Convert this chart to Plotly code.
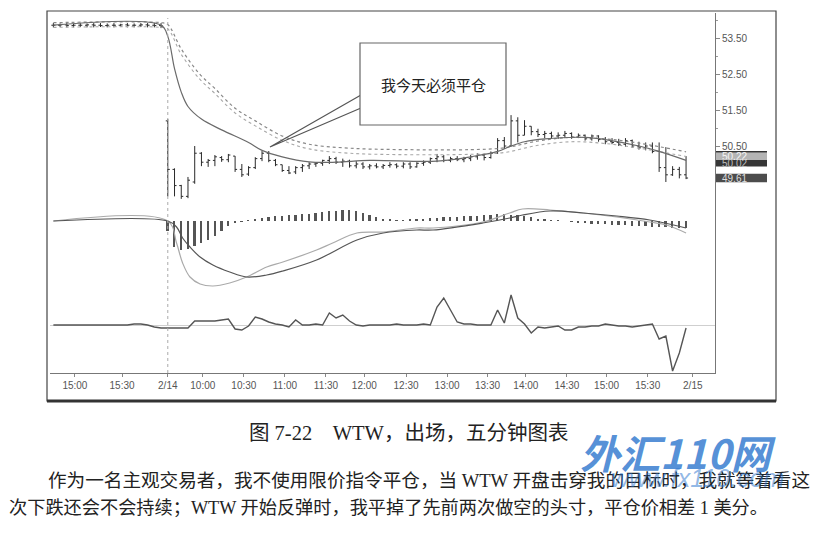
import plotly.graph_objects as go

# ---- data (bar number: 0 = 2/14 open, 5-minute bars) ----
pre_high = [53.92, 53.91, 53.92, 53.90, 53.92, 53.91, 53.92, 53.92, 53.91, 53.92,
            53.90, 53.92, 53.91, 53.92, 53.92, 53.93, 53.92]
pre_low = [53.80, 53.81, 53.80, 53.80, 53.81, 53.80, 53.80, 53.81, 53.80, 53.80,
           53.81, 53.80, 53.80, 53.81, 53.80, 53.80, 53.78]
pre_open = [53.86, 53.86, 53.87, 53.85, 53.86, 53.86, 53.87, 53.86, 53.85, 53.86,
            53.86, 53.87, 53.86, 53.86, 53.87, 53.86, 53.85]
pre_close = [53.86, 53.87, 53.85, 53.86, 53.86, 53.87, 53.86, 53.85, 53.86, 53.86,
             53.87, 53.86, 53.86, 53.87, 53.86, 53.85, 53.84]

day_open = [51.20, 49.85, 49.40, 49.10, 49.50, 50.30, 50.05, 50.10, 50.18, 50.12,
            50.22, 49.85, 49.72, 49.90, 50.15, 50.30, 50.10, 49.98, 49.82, 49.78,
            49.90, 49.95, 50.00, 50.02, 50.10, 50.15, 50.05, 50.08, 49.95, 50.00,
            49.92, 49.95, 49.92, 49.96, 49.98, 49.94, 50.00, 49.92, 50.02, 50.05,
            50.15, 50.20, 50.10, 50.15, 50.12, 50.15, 50.20, 50.25, 50.18, 50.30,
            50.65, 50.50, 51.20, 50.80, 51.05, 50.90, 50.82, 50.85, 50.78, 50.80,
            50.85, 50.75, 50.80, 50.70, 50.78, 50.68, 50.62, 50.60, 50.55, 50.65,
            50.50, 50.45, 50.50, 50.35, 49.90, 49.70, 49.85, 49.70]
day_high = [51.25, 49.88, 49.42, 49.64, 50.50, 50.33, 50.14, 50.25, 50.22, 50.28,
            50.22, 50.00, 49.94, 50.19, 50.36, 50.36, 50.14, 49.98, 49.94, 49.94,
            50.00, 50.05, 50.05, 50.12, 50.22, 50.20, 50.15, 50.12, 50.08, 50.05,
            50.00, 50.02, 50.00, 50.05, 50.02, 50.05, 50.05, 50.05, 50.10, 50.18,
            50.28, 50.25, 50.20, 50.22, 50.20, 50.25, 50.30, 50.28, 50.35, 50.72,
            50.75, 51.36, 51.30, 51.22, 51.05, 50.98, 50.92, 50.90, 50.88, 50.92,
            50.88, 50.85, 50.82, 50.82, 50.80, 50.75, 50.72, 50.70, 50.72, 50.68,
            50.62, 50.60, 50.60, 50.60, 50.47, 49.94, 49.92, 50.22]
day_low = [49.10, 49.10, 49.03, 49.05, 49.45, 49.94, 49.92, 49.94, 50.06, 50.05,
           49.78, 49.64, 49.67, 49.86, 50.08, 50.05, 49.94, 49.78, 49.72, 49.72,
           49.78, 49.86, 49.92, 49.95, 50.00, 50.00, 49.92, 49.90, 49.88, 49.86,
           49.85, 49.88, 49.86, 49.90, 49.88, 49.88, 49.86, 49.90, 49.95, 50.00,
           50.05, 50.05, 50.05, 50.08, 50.05, 50.08, 50.12, 50.10, 50.15, 50.28,
           50.42, 50.48, 50.60, 50.80, 50.80, 50.75, 50.72, 50.70, 50.70, 50.72,
           50.70, 50.72, 50.65, 50.65, 50.62, 50.55, 50.55, 50.50, 50.48, 50.45,
           50.40, 50.38, 50.30, 49.78, 49.50, 49.67, 49.60, 49.58]
day_close = [49.85, 49.40, 49.10, 49.55, 50.30, 50.05, 50.10, 50.20, 50.12, 50.25,
             49.85, 49.70, 49.90, 50.15, 50.30, 50.10, 49.98, 49.82, 49.75, 49.90,
             49.95, 50.00, 50.02, 50.10, 50.15, 50.05, 50.08, 49.95, 50.00, 49.92,
             49.95, 49.92, 49.96, 49.98, 49.94, 50.00, 49.92, 50.02, 50.05, 50.15,
             50.20, 50.10, 50.15, 50.12, 50.15, 50.20, 50.25, 50.18, 50.30, 50.65,
             50.50, 51.20, 50.80, 51.05, 50.90, 50.82, 50.85, 50.78, 50.80, 50.85,
             50.75, 50.80, 50.70, 50.78, 50.68, 50.62, 50.60, 50.55, 50.65, 50.50,
             50.45, 50.50, 50.35, 49.90, 49.70, 49.85, 49.70, 49.61]

bars = list(range(-17, 78))

# moving averages (knots)
fast_ma_x = [-17, -1, 0, 1, 2, 3, 5, 8, 12, 14, 17, 21, 25, 30, 40, 45, 49, 51, 53, 56, 62, 65, 70, 73, 77]
fast_ma_y = [53.86, 53.86, 53.55, 52.65, 52.0, 51.6, 51.25, 50.95, 50.6, 50.38, 50.2, 50.06, 50.05,
             50.10, 50.08, 50.2, 50.35, 50.5, 50.62, 50.7, 50.74, 50.68, 50.5, 50.35, 50.1]
slow_up_x = [-17, -1, 0, 2, 4.75, 7, 10, 13, 17, 21, 27, 35, 45, 50, 55, 60, 65, 70, 77]
slow_up_y = [53.93, 53.93, 53.88, 53.2, 52.5, 52.1, 51.55, 51.2, 50.78, 50.55, 50.44, 50.40,
             50.40, 50.45, 50.64, 50.74, 50.70, 50.58, 50.34]
slow_dn_x = [-17, -1, 0, 2, 4.75, 7, 10, 13, 17, 21, 27, 35, 45, 50, 55, 60, 65, 70, 77]
slow_dn_y = [53.80, 53.80, 53.76, 53.05, 52.36, 51.96, 51.42, 51.06, 50.66, 50.42, 50.30, 50.26,
             50.27, 50.32, 50.52, 50.62, 50.57, 50.44, 50.21]

# MACD panel
macd_x = [-17, 0, 1.3, 2.2, 3.3, 4.8, 6.7, 9.2, 11.7, 14.7, 17.1, 22.1, 24.5, 28.1, 32, 37,
          39.4, 46.8, 50.8, 52.7, 56.8, 61.7, 66.7, 71.6, 74.1, 77]
macd_fast = [0, 0, -0.44, -0.84, -1.12, -1.26, -1.30, -1.24, -1.12, -0.92, -0.82, -0.58, -0.44,
             -0.24, -0.22, -0.14, -0.14, -0.02, 0.16, 0.24, 0.22, 0.16, 0.08, -0.02, -0.08, -0.24]
signal_x = [-17, 0, 1.3, 2.2, 3.3, 4.8, 6.7, 9.2, 11.7, 14.7, 17.1, 22.1, 28.1, 32, 37, 39.4,
            46.8, 50.8, 52.7, 56.8, 61.7, 66.7, 71.6, 77]
macd_signal = [0, 0, -0.12, -0.34, -0.52, -0.72, -0.88, -1.02, -1.12, -1.08, -1.00, -0.78, -0.38,
               -0.24, -0.18, -0.18, -0.04, 0.06, 0.12, 0.20, 0.16, 0.10, 0.02, -0.14]
macd_hist = [0] * 17 + [
    -0.20, -0.52, -0.58, -0.56, -0.50, -0.44, -0.38, -0.30, -0.20, -0.10,
    -0.04, -0.02, 0.02, 0.04, 0.06, 0.08, 0.10, 0.10, 0.12, 0.12,
    0.14, 0.14, 0.16, 0.18, 0.20, 0.20, 0.22, 0.22, 0.20, 0.16,
    0.12, 0.08, 0.05, 0.03, 0.02, 0.02, 0.03, 0.04, 0.05, 0.06,
    0.07, 0.08, 0.08, 0.09, 0.10, 0.10, 0.11, 0.12, 0.13, 0.14,
    0.14, 0.13, 0.12, 0.10, 0.08, 0.05, 0.03, 0.02, 0.01, 0.0,
    -0.02, -0.03, -0.04, -0.05, -0.06, -0.06, -0.07, -0.08, -0.08, -0.09,
    -0.10, -0.10, -0.11, -0.12, -0.12, -0.13, -0.13, -0.14]

# lower oscillator
osc = [0, 0, 0, 0, 0, 0, 0, 0, 0, 0, 0, 0, 0.1, 0.1, 0, -0.2, -0.3,
       -0.3, -0.3, -0.3, -0.3, 0.4, 0.4, 0.4, 0.4, 0.5, 0.6,
       -0.4, -0.5, -0.1, 0.8, 0.6, 0.3, 0.1, 0.0, -0.2, 0.5,
       0.0, 0.0, 0.1, 0.0, 1.2, 0.7, 1.0, 0.4, 0.0, -0.1,
       0.0, 0.0, 0.0, 0.0, 0.1, 0.0, 0.0, 0.0, 0.1, 0.0,
       1.8, 2.7, 1.5, 0.3, 0.1, 0.1, 0.0, 0.0, 0.0, 1.5,
       0.2, 3.0, 0.7, 0.1, -0.8, -0.2, -0.3, -0.2, -0.1, -0.5,
       -0.5, -0.2, -0.2, -0.1, -0.1, 0.1, 0.0, -0.1, -0.1, -0.2,
       -0.1, 0.0, 0.1, -1.4, -1.1, -4.6, -2.8, -0.3]

x_tick_pos = [-13.8, -6.8, 0, 5.2, 11.3, 17.4, 23.5, 29.2, 35.4, 41.5, 47.5, 53.2, 59.3, 65.2, 71.3, 78]
x_tick_text = ['15:00', '15:30', '2/14', '10:00', '10:30', '11:00', '11:30', '12:00', '12:30',
               '13:00', '13:30', '14:00', '14:30', '15:00', '15:30', '2/15']
price_ticks = [50.5, 51.5, 52.5, 53.5]
price_tick_text = ['50.50', '51.50', '52.50', '53.50']
last_values = [50.22, 50.02, 49.61]

W, H = 827, 538
OFF = 8  # page body margin in the browser


def px(v):
    return (v - OFF) / W


def py(v):
    return 1 - (v - OFF) / H


fig = go.Figure()

fig.add_trace(go.Ohlc(x=bars, open=pre_open + day_open, high=pre_high + day_high,
                      low=pre_low + day_low, close=pre_close + day_close,
                      increasing_line_color='#2a2a2a', decreasing_line_color='#2a2a2a',
                      line_width=1, tickwidth=0.3, xaxis='x', yaxis='y'))
fig.add_trace(go.Scatter(x=slow_up_x, y=slow_up_y, mode='lines', line=dict(color='#888', width=1.2, dash='dot', shape='spline'), yaxis='y'))
fig.add_trace(go.Scatter(x=slow_dn_x, y=slow_dn_y, mode='lines', line=dict(color='#a8a8a8', width=1.1, dash='dot', shape='spline'), yaxis='y'))
fig.add_trace(go.Scatter(x=fast_ma_x, y=fast_ma_y, mode='lines', line=dict(color='#6a6a6a', width=1.2, shape='spline'), yaxis='y'))

fig.add_trace(go.Bar(x=bars, y=macd_hist, width=0.26, marker=dict(color='#555', line_width=0), yaxis='y2'))
fig.add_trace(go.Scatter(x=macd_x, y=macd_fast, mode='lines', line=dict(color='#aaa', width=1.2, shape='spline'), yaxis='y2'))
fig.add_trace(go.Scatter(x=signal_x, y=macd_signal, mode='lines', line=dict(color='#555', width=1.2, shape='spline'), yaxis='y2'))

fig.add_trace(go.Scatter(x=bars, y=osc, mode='lines', line=dict(color='#555', width=1.4), yaxis='y3'))

axis_font = dict(family='Liberation Sans, Arial', size=10, color='#555')
fig.update_layout(
    width=W, height=H, margin=dict(l=0, r=0, t=0, b=0),
    paper_bgcolor='white', plot_bgcolor='white', showlegend=False, bargap=0,
    xaxis=dict(domain=[px(50), px(715)], range=[-17.5, 81.3], anchor='y3',
               tickvals=x_tick_pos, ticktext=x_tick_text, ticks='outside', ticklen=3,
               tickcolor='#888', showline=True, linecolor='#777', showgrid=False,
               zeroline=False, tickfont=axis_font, rangeslider=dict(visible=False)),
    yaxis=dict(domain=[py(205), py(13)], range=[48.86, 54.2], side='right', anchor='x',
               tickvals=price_ticks, ticktext=price_tick_text, ticks='outside', ticklen=4,
               tickcolor='#888', showline=True, linecolor='#777', showgrid=False,
               zeroline=False, tickfont=axis_font,
               minor=dict(tickvals=[50, 51, 52, 53, 54], ticks='outside', ticklen=2, tickcolor='#999')),
    yaxis2=dict(domain=[py(292), py(205)], range=[-1.42, 0.32], side='right', anchor='x',
                showticklabels=False, showline=True, linecolor='#777', showgrid=False, zeroline=False),
    yaxis3=dict(domain=[py(373), py(292)], range=[-4.8, 3.3], side='right', anchor='x',
                showticklabels=False, showline=True, linecolor='#777', showgrid=False,
                zeroline=True, zerolinecolor='#cfcfcf', zerolinewidth=1),
)

shapes = []
# chart frame
shapes.append(dict(type='rect', xref='paper', yref='paper', x0=px(47), x1=px(776), y0=py(401), y1=py(11),
                   line=dict(color='#444', width=1.2)))
shapes.append(dict(type='line', xref='paper', yref='paper', x0=px(47), x1=px(776), y0=py(401), y1=py(401),
                   line=dict(color='#333', width=3)))
# session divider
shapes.append(dict(type='line', xref='x', yref='paper', x0=0, x1=0, y0=py(373), y1=py(18),
                   line=dict(color='#aaa', width=1, dash='dot')))
# callout
shapes.append(dict(type='path', xref='paper', yref='paper',
                   path='M %f,%f L %f,%f L %f,%f' % (px(361), py(95), px(270), py(147), px(361), py(108)),
                   line=dict(color='#555', width=1.2)))
shapes.append(dict(type='rect', xref='paper', yref='paper', x0=px(360), x1=px(506), y0=py(125), y1=py(43),
                   line=dict(color='#666', width=1.2), fillcolor='white'))
# last-value boxes on the price scale
box_fill = ['#b4b4b4', '#363636', '#4c4c4c']
box_text = ['#f4f4f4', '#bdbdbd', '#dddddd']
box_half = [0.11, 0.09, 0.12]
for v, f, h in zip(last_values, box_fill, box_half):
    shapes.append(dict(type='rect', xref='paper', yref='y', x0=px(716), x1=px(767), y0=v - h, y1=v + h,
                       fillcolor=f, line_width=0, layer='above'))
shapes.append(dict(type='line', xref='paper', yref='y', x0=px(716), x1=px(767), y0=50.34, y1=50.34,
                   line=dict(color='#333', width=1.5)))
fig.update_layout(shapes=shapes)

annotations = []
for v, c in zip(last_values, box_text):
    annotations.append(dict(xref='paper', yref='y', x=px(720), y=v, xanchor='left', yanchor='middle',
                            text='%.2f' % v, showarrow=False,
                            font=dict(family='Liberation Sans, Arial', size=10, color=c)))
annotations.append(dict(xref='paper', yref='paper', x=px(433), y=py(84), xanchor='center', yanchor='middle',
                        text='我今天必须平仓', showarrow=False,
                        font=dict(family='Noto Sans CJK SC', size=15, color='#222')))

serif_cjk = 'Liberation Serif, Noto Sans CJK SC'
annotations.append(dict(xref='paper', yref='paper', x=px(408), y=py(433), xanchor='center', yanchor='middle',
                        text='图 7-22    WTW，出场，五分钟图表', showarrow=False,
                        font=dict(family=serif_cjk, size=20.5, color='#222')))
annotations.append(dict(xref='paper', yref='paper', x=px(46), y=py(480), xanchor='left', yanchor='middle',
                        text='作为一名主观交易者，我不使用限价指令平仓，当 WTW 开盘击穿我的目标时，我就等着看这',
                        showarrow=False, font=dict(family=serif_cjk, size=18.6, color='#222')))
annotations.append(dict(xref='paper', yref='paper', x=px(7), y=py(508), xanchor='left', yanchor='middle',
                        text='次下跌还会不会持续；WTW 开始反弹时，我平掉了先前两次做空的头寸，平仓价相差 1 美分。',
                        showarrow=False, font=dict(family=serif_cjk, size=18.2, color='#222')))
# site watermark on the scan
annotations.append(dict(xref='paper', yref='paper', x=px(678), y=py(452), xanchor='center', yanchor='middle',
                        text='<b><i>外汇110网</i></b>', showarrow=False,
                        font=dict(family='Noto Sans CJK SC', size=40, color='rgba(40,115,205,0.8)')))
annotations.append(dict(xref='paper', yref='paper', x=px(697), y=py(478), xanchor='center', yanchor='middle',
                        text='<i>www.fx110.com</i>', showarrow=False,
                        font=dict(family='Liberation Sans, Arial', size=25, color='rgba(40,115,205,0.5)')))
fig.update_layout(annotations=annotations)

fig.write_html("out.html")
